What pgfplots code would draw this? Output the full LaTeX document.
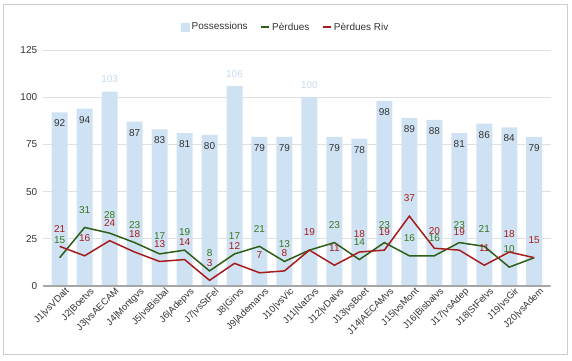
\documentclass[border=0pt]{standalone}
\usepackage{pgfplots}
\pgfplotsset{compat=1.18}
\usepackage{fontspec}
\setmainfont{Liberation Sans}
\definecolor{barc}{HTML}{CFE2F3}
\definecolor{barl}{HTML}{C5D9EE}
\definecolor{grn}{HTML}{38761D}
\definecolor{grnl}{HTML}{2D5E17}
\definecolor{redc}{HTML}{A61C1C}
\definecolor{txt}{HTML}{333333}
\begin{document}
\begin{tikzpicture}[x=1pt,y=1pt]
\useasboundingbox (0,0) rectangle (572,360);
\draw[gray!40, line width=1pt] (3,6) rectangle (567,356);
\begin{axis}[
  at={(42.7pt,74pt)}, anchor=south west,
  scale only axis, width=508pt, height=236pt,
  xmin=-0.68, xmax=19.66, ymin=0, ymax=125,
  ytick={0,25,50,75,100,125},
  xtick={0,...,19},
  xticklabels={J1|vsVDalt,J2|Boetvs,J3|vsAECAM,J4|Montgvs,J5|vsBisbal,J6|Adepvs,J7|vsStFel,J8|Girvs,J9|Ademarvs,J10|vsVic,J11|Natzvs,J12|vDalvs,J13|vsBoet,J14|AECAMvs,J15|vsMont,J16|Bisbalvs,J17|vsAdep,J18|StFelvs,J19|vsGir,J20|vsAdem},
  major tick length=0pt,
  axis line style={draw=none},
  ymajorgrids, grid style={gray!25, line width=0.8pt},
  /pgf/number format/assume math mode=true,
  yticklabel style={font=\fontsize{10}{12}\selectfont, text=txt, xshift=-2pt},
  xticklabel style={rotate=45, anchor=north east, font=\fontsize{9.5}{11}\selectfont, text=txt, inner sep=1pt, xshift=4pt, yshift=-3pt},
  legend columns=3,
  legend style={draw=none, fill=none, at={(0.478,1.097)}, anchor=center, font=\fontsize{10}{12}\selectfont, text=txt,
    /tikz/every even column/.append style={column sep=10pt}},
  legend cell align=left,
]
\addplot[ybar, bar width=16pt, bar shift=0pt, fill=barc, draw=none,
  legend image code/.code={\fill[barc] (0pt,-4.5pt) rectangle (9pt,4.5pt);},
  visualization depends on={rawy \as \rawy},
  nodes near coords={\ifdim\rawy pt<99pt\relax\pgfmathprintnumber[fixed,precision=0]{\rawy}\fi},
  nodes near coords align={below},
  every node near coord/.append style={font=\fontsize{10}{12}\selectfont, text=txt, yshift=-4pt}]
coordinates {(0,92) (1,94) (2,103) (3,87) (4,83) (5,81) (6,80) (7,106) (8,79) (9,79) (10,100) (11,79) (12,78) (13,98) (14,89) (15,88) (16,81) (17,86) (18,84) (19,79)};
\addlegendentry{Possessions}
\addplot[draw=none, forget plot, nodes near coords, point meta=y,
  nodes near coords align={above},
  every node near coord/.append style={font=\fontsize{10}{12}\selectfont, text=barl, yshift=5pt}]
coordinates {(2,103) (7,106) (10,100)};
\addplot[grnl, line width=1.5pt, mark=none,
  legend image code/.code={\draw[line width=2.5pt] (0pt,0pt) -- (8pt,0pt);},
  visualization depends on={rawx \as \rawx},
  visualization depends on={rawy \as \rawyy},
  nodes near coords={\ifdim\rawx pt=10pt\relax\else\ifdim\rawx pt=19pt\relax\else\pgfmathprintnumber[fixed,precision=0]{\rawyy}\fi\fi},
  every node near coord/.append style={font=\fontsize{10}{12}\selectfont, text=grn, anchor=south, yshift=10pt}]
coordinates {(0,15) (1,31) (2,28) (3,23) (4,17) (5,19) (6,8) (7,17) (8,21) (9,13) (10,19) (11,23) (12,14) (13,23) (14,16) (15,16) (16,23) (17,21) (18,10) (19,15)};
\addlegendentry{Pèrdues}
\addplot[redc, line width=1.5pt, mark=none,
  legend image code/.code={\draw[line width=2.5pt] (0pt,0pt) -- (8pt,0pt);},
  visualization depends on={rawy \as \rawyr},
  nodes near coords={\pgfmathprintnumber[fixed,precision=0]{\rawyr}},
  every node near coord/.append style={font=\fontsize{10}{12}\selectfont, text=redc, anchor=south, yshift=10pt}]
coordinates {(0,21) (1,16) (2,24) (3,18) (4,13) (5,14) (6,3) (7,12) (8,7) (9,8) (10,19) (11,11) (12,18) (13,19) (14,37) (15,20) (16,19) (17,11) (18,18) (19,15)};
\addlegendentry{Pèrdues Riv}
\draw[gray!70, line width=1.5pt] (rel axis cs:0,0) -- (rel axis cs:1,0);
\end{axis}
\end{tikzpicture}
\end{document}
